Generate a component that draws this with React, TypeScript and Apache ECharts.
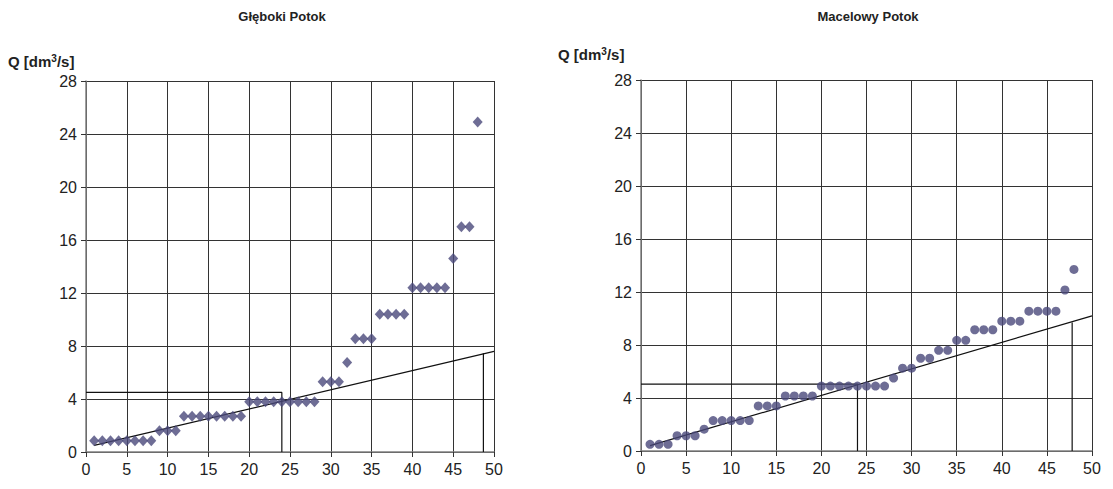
import React, { useEffect, useRef } from "react";
import * as echarts from "echarts";

const xTicks = [0, 5, 10, 15, 20, 25, 30, 35, 40, 45, 50];
const yTicks = [0, 4, 8, 12, 16, 20, 24, 28];

const glebokiX = [1,2,3,4,5,6,7,8,9,10,11,12,13,14,15,16,17,18,19,20,21,22,23,24,25,26,27,28,29,30,31,32,33,34,35,36,37,38,39,40,41,42,43,44,45,46,47,48];
const glebokiQ = [0.85,0.85,0.85,0.85,0.85,0.85,0.85,0.85,1.6,1.6,1.6,2.7,2.7,2.7,2.7,2.7,2.7,2.7,2.7,3.8,3.8,3.8,3.8,3.8,3.8,3.8,3.8,3.8,5.3,5.3,5.3,6.75,8.55,8.55,8.55,10.4,10.4,10.4,10.4,12.4,12.4,12.4,12.4,12.4,14.6,17.0,17.0,24.9];
const glebokiTrend = [[1, 0.5], [50, 7.6]];
const glebokiBox = [[0, 4.5], [24, 4.5], [24, 0]];
const glebokiDrop = [[48.7, 0], [48.7, 7.45]];

const macelowyX = [1,2,3,4,5,6,7,8,9,10,11,12,13,14,15,16,17,18,19,20,21,22,23,24,25,26,27,28,29,30,31,32,33,34,35,36,37,38,39,40,41,42,43,44,45,46,47,48];
const macelowyQ = [0.5,0.5,0.5,1.15,1.15,1.15,1.65,2.3,2.3,2.3,2.3,2.3,3.4,3.4,3.4,4.15,4.15,4.15,4.15,4.9,4.9,4.9,4.9,4.9,4.9,4.9,4.9,5.5,6.25,6.25,7.0,7.0,7.6,7.6,8.35,8.35,9.15,9.15,9.15,9.8,9.8,9.8,10.55,10.55,10.55,10.55,12.15,13.7];
const macelowyTrend = [[1, 0.4], [50, 10.2]];
const macelowyBox = [[0, 5.05], [24, 5.05], [24, 0]];
const macelowyDrop = [[47.8, 0], [47.8, 9.7]];

const titles = ["Głęboki Potok", "Macelowy Potok"];
const yName = "{a|Q [dm}{s|3}{a|/s]}";

const pointColor = "#4a497b";

export default function App() {
  const ref = useRef<HTMLDivElement>(null);
  useEffect(() => {
    if (!ref.current) return;
    const chart = echarts.init(ref.current, null, { renderer: "svg" });
    const font = "Arial, 'Liberation Sans', sans-serif";
    const mkX = (gi: number) => ({
      type: "value",
      gridIndex: gi,
      min: 0,
      max: 50,
      interval: 5,
      axisLine: { show: true, onZero: false, lineStyle: { color: "#808080", width: 1.5 } },
      axisTick: { show: true, length: 5, lineStyle: { color: "#333" } },
      axisLabel: { color: "#222", fontSize: 16, fontFamily: font, margin: 9 },
      splitLine: { show: true, lineStyle: { color: "#333", width: 1 } },
    });
    const mkY = (gi: number) => ({
      type: "value",
      gridIndex: gi,
      min: 0,
      max: 28,
      interval: 4,
      axisLine: { show: true, onZero: false, lineStyle: { color: "#808080", width: 1.5 } },
      axisTick: { show: true, length: 5, lineStyle: { color: "#333" } },
      axisLabel: { color: "#222", fontSize: 16, fontFamily: font, margin: 9 },
      splitLine: { show: true, lineStyle: { color: "#333", width: 1 } },
    });
    const lineSeries = (gi: number, data: number[][]) => ({
      type: "line",
      xAxisIndex: gi,
      yAxisIndex: gi,
      data,
      showSymbol: false,
      symbol: "none",
      lineStyle: { color: "#111", width: 1.2 },
      z: 3,
    });
    const rich = {
      a: { fontSize: 15, fontWeight: "bold", fontFamily: font, color: "#222", fill: "#222" },
      s: { fontSize: 10, fontWeight: "bold", fontFamily: font, color: "#222", fill: "#222", verticalAlign: "top", padding: [0, 0, 6, 0] },
    };
    chart.setOption({
      animation: false,
      backgroundColor: "#ffffff",
      title: [
        { text: titles[0], left: 274, top: 2, padding: 0, textAlign: "center", textStyle: { fontSize: 13, fontWeight: "bold", fontFamily: font, color: "#222" } },
        { text: titles[1], left: 860, top: 2, padding: 0, textAlign: "center", textStyle: { fontSize: 13, fontWeight: "bold", fontFamily: font, color: "#222" } },
      ],
      graphic: [
        { type: "text", left: 0, top: 45, style: { text: yName, rich, fontSize: 15, fontWeight: "bold", fontFamily: font, fill: "#222" } },
        { type: "text", left: 550, top: 38, style: { text: yName, rich, fontSize: 15, fontWeight: "bold", fontFamily: font, fill: "#222" } },
      ],
      grid: [
        { left: 78, top: 73, width: 408, height: 371 },
        { left: 633, top: 72, width: 451, height: 371 },
      ],
      xAxis: [mkX(0), mkX(1)],
      yAxis: [mkY(0), mkY(1)],
      series: [
        lineSeries(0, glebokiTrend),
        lineSeries(0, glebokiBox),
        lineSeries(0, glebokiDrop),
        {
          type: "scatter",
          xAxisIndex: 0,
          yAxisIndex: 0,
          symbol: "diamond",
          symbolSize: [10, 11],
          itemStyle: { color: pointColor },
          data: glebokiX.map((x, i) => [x, glebokiQ[i]]),
          z: 4,
        },
        lineSeries(1, macelowyTrend),
        lineSeries(1, macelowyBox),
        lineSeries(1, macelowyDrop),
        {
          type: "scatter",
          xAxisIndex: 1,
          yAxisIndex: 1,
          symbol: "circle",
          symbolSize: 9,
          itemStyle: { color: pointColor },
          data: macelowyX.map((x, i) => [x, macelowyQ[i]]),
          z: 4,
        },
      ],
    });
    return () => chart.dispose();
  }, []);
  return <div ref={ref} style={{ width: 1097, height: 473 }} />;
}
